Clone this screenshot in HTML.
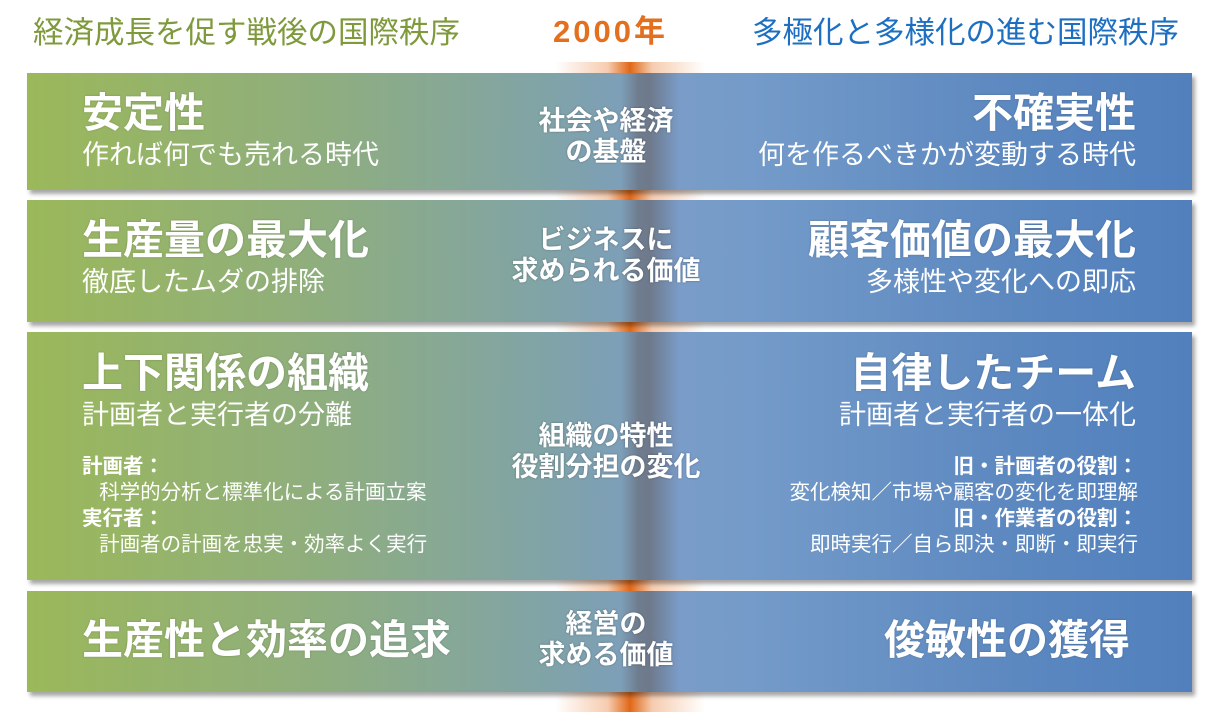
<!DOCTYPE html>
<html><head><meta charset="utf-8"><style>
*{margin:0;padding:0;box-sizing:border-box}
body{width:1216px;height:725px;background:#fff;position:relative;overflow:hidden;font-family:"Liberation Sans","Noto Sans CJK JP",sans-serif;color:#fff}
.h{position:absolute;top:15px;font-size:30.5px;line-height:36px;white-space:nowrap}
.stripe{position:absolute;left:555px;width:150px;top:62px;height:650px;background:linear-gradient(90deg,rgba(230,110,30,0) 0%,rgba(230,110,30,.35) 35%,#e06818 50%,rgba(230,110,30,.35) 65%,rgba(230,110,30,0) 100%)}
.bar{position:absolute;left:27px;width:1165px;box-shadow:3px 4px 4px rgba(0,0,0,.35);
background:linear-gradient(90deg,#9bb85a 0%,#8fae7e 25%,#80a3a8 45%,#7d9fb8 51%,#6f7c8e 52.5%,#6e7a8c 53.5%,#7a9cc8 56%,#749bc9 62%,#5c88c0 85%,#5180bd 100%)}
.t{position:absolute;font-weight:bold;font-size:41px;line-height:44px;white-space:nowrap;text-shadow:0 0 2px rgba(0,0,0,.2)}
.s{position:absolute;font-size:27px;line-height:30px;white-space:nowrap}
.m{position:absolute;font-size:20.5px;white-space:nowrap;line-height:26px}
.c{position:absolute;left:456px;width:300px;text-align:center;font-weight:bold;font-size:27px;line-height:31px;text-shadow:0 0 2px rgba(0,0,0,.3)}
</style></head><body>
<div class="h" style="left:33px;color:#7f9a3c">経済成長を促す戦後の国際秩序</div>
<div class="h" style="left:553px;top:14px;color:#e3701f;font-weight:bold;font-size:31px;letter-spacing:3px">2000年</div>
<div class="h" style="left:752px;color:#1e6fc1">多極化と多様化の進む国際秩序</div>
<div class="stripe"></div>

<div class="bar" style="top:73px;height:117px"></div>
<div class="t" style="left:82px;top:91px">安定性</div>
<div class="s" style="left:82px;top:140px">作れば何でも売れる時代</div>
<div class="t" style="right:80px;top:91px">不確実性</div>
<div class="s" style="right:80px;top:140px">何を作るべきかが変動する時代</div>
<div class="c" style="top:106px">社会や経済<br>の基盤</div>

<div class="bar" style="top:200px;height:122px"></div>
<div class="t" style="left:82px;top:218px">生産量の最大化</div>
<div class="s" style="left:82px;top:267px">徹底したムダの排除</div>
<div class="t" style="right:80px;top:218px">顧客価値の最大化</div>
<div class="s" style="right:80px;top:267px">多様性や変化への即応</div>
<div class="c" style="top:225px">ビジネスに<br>求められる価値</div>

<div class="bar" style="top:332px;height:248px"></div>
<div class="t" style="left:82px;top:351px">上下関係の組織</div>
<div class="s" style="left:82px;top:400px">計画者と実行者の分離</div>
<div class="m" style="left:82px;top:454px"><b>計画者：</b><br>&nbsp;&nbsp;&nbsp;科学的分析と標準化による計画立案<br><b>実行者：</b><br>&nbsp;&nbsp;&nbsp;計画者の計画を忠実・効率よく実行</div>
<div class="t" style="right:80px;top:351px">自律したチーム</div>
<div class="s" style="right:80px;top:400px">計画者と実行者の一体化</div>
<div class="m" style="right:78px;top:454px;text-align:right"><b>旧・計画者の役割：</b><br>変化検知／市場や顧客の変化を即理解<br><b>旧・作業者の役割：</b><br>即時実行／自ら即決・即断・即実行</div>
<div class="c" style="top:421px">組織の特性<br>役割分担の変化</div>

<div class="bar" style="top:591px;height:101px"></div>
<div class="t" style="left:82px;top:618px">生産性と効率の追求</div>
<div class="t" style="right:86px;top:618px">俊敏性の獲得</div>
<div class="c" style="top:609px">経営の<br>求める価値</div>
</body></html>
